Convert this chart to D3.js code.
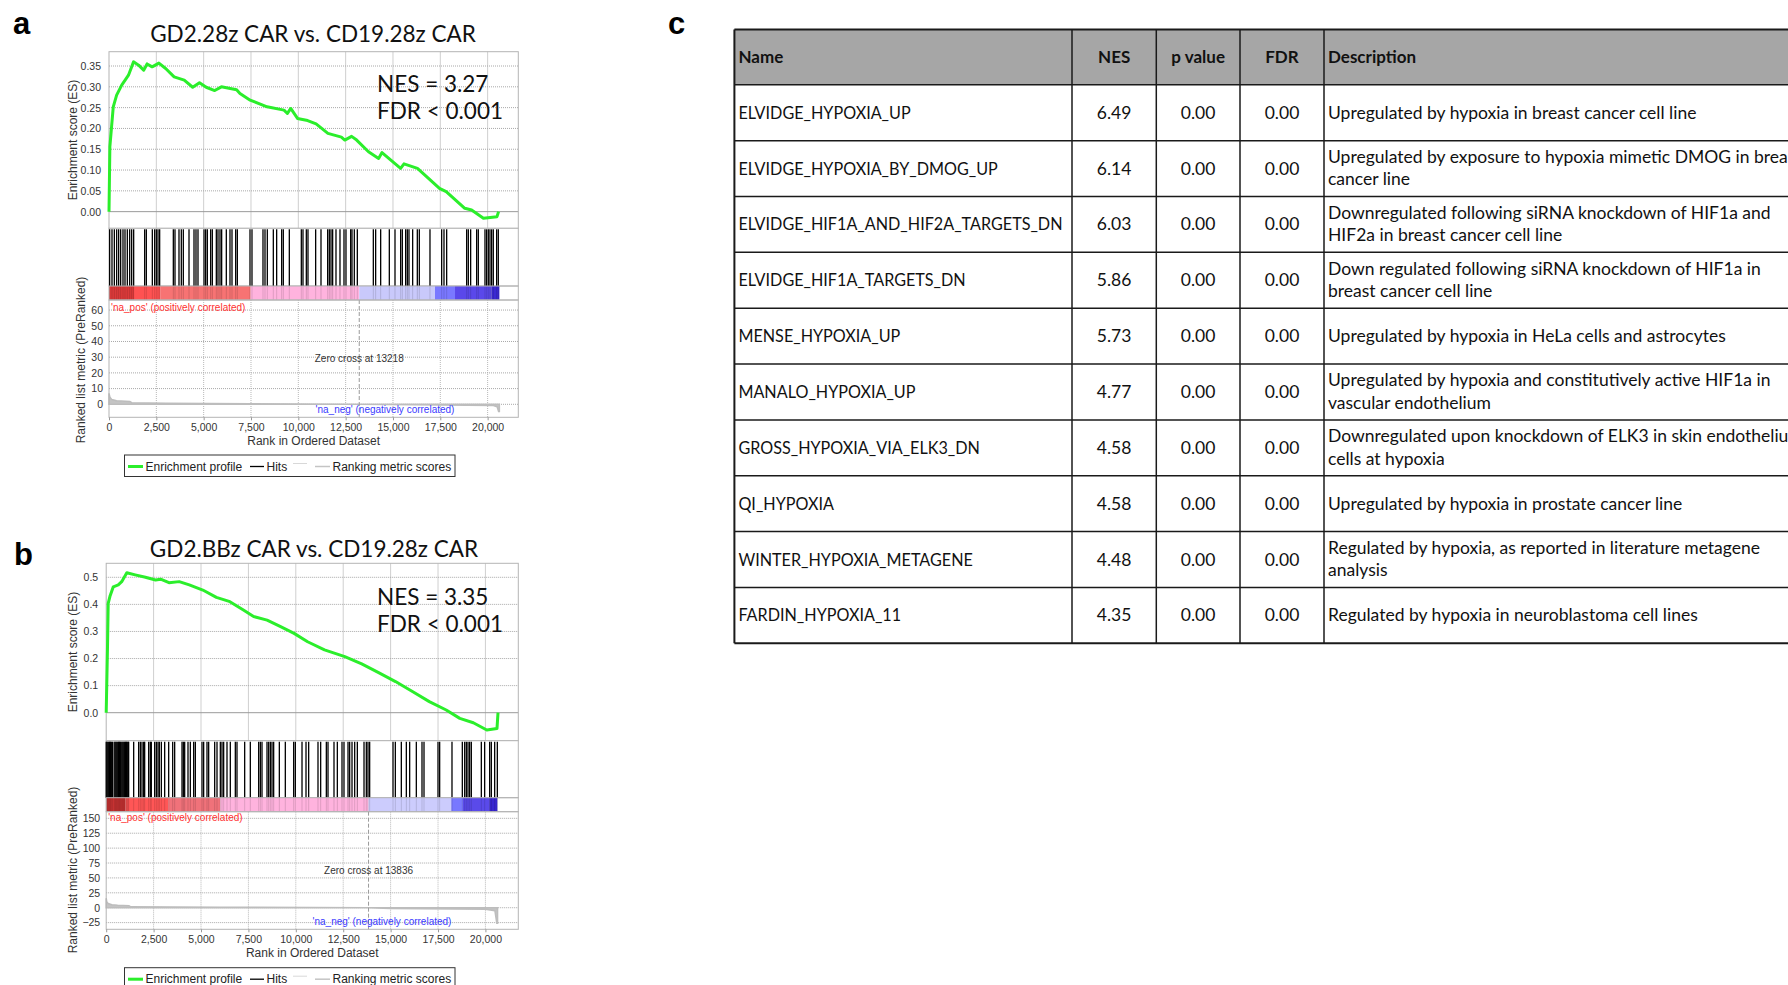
<!DOCTYPE html>
<html><head><meta charset="utf-8">
<script src="https://cdn.jsdelivr.net/npm/d3@7"></script>
<style>body{margin:0;background:#fff;overflow:hidden}svg{display:block}</style>
</head><body>
<svg id="fig" width="1788" height="985"></svg>
<script>
// ---------------- DATA ----------------
const xTicks = [0, 2500, 5000, 7500, 10000, 12500, 15000, 17500, 20000];

// Panel a
const titleA = "GD2.28z CAR vs. CD19.28z CAR";
const nesA = "NES = 3.27";
const fdrA = "FDR < 0.001";
const zeroCrossA = 13218;
const esTicksA = [0, 0.05, 0.10, 0.15, 0.20, 0.25, 0.30, 0.35];
const metricTicksA = [0, 10, 20, 30, 40, 50, 60];
const esRankA = [0,46,135,225,403,672,1029,1296,1564,1831,2011,2279,2635,2993,3440,3974,4421,4780,5135,5583,5937,6740,6919,7457,8350,9244,9423,9600,9957,10492,10940,11563,12276,12455,12814,13083,13707,14241,14420,15403,15582,16295,17457,17811,18793,19153,19777,20495,20578];
const esValA = [0,0.156,0.204,0.252,0.280,0.304,0.328,0.360,0.352,0.340,0.355,0.348,0.357,0.344,0.324,0.316,0.299,0.310,0.299,0.291,0.300,0.293,0.284,0.268,0.252,0.244,0.236,0.248,0.224,0.219,0.211,0.188,0.179,0.172,0.181,0.172,0.144,0.128,0.142,0.104,0.115,0.104,0.056,0.048,0.008,0.004,-0.016,-0.012,0.0];
const hitsA = [35,158,282,405,510,616,739,845,968,1092,1197,1303,1884,1972,2289,2412,2500,2588,2676,3398,3486,3697,3820,3926,4226,4490,4595,4701,5018,5106,5194,5370,5458,5669,5757,5863,5951,6197,6391,6497,6691,6779,7448,7553,8134,8240,8363,8680,8856,9120,9208,9525,10159,10247,10423,10511,10916,11198,11550,11638,11726,11814,11990,12201,12413,12518,12765,12835,12958,13117,13962,14085,14350,14807,15107,15406,15494,15670,15758,15846,16040,16286,16392,16955,17572,17695,17836,18892,18980,19103,19420,19508,19860,19948,20036,20124,20212,20300,20476,20564];
const metricRankA = [0,50,150,400,1100,1200,3000,7500,13218,17500,20300,20500,20580,20620];
const metricValA = [7,4.5,3,2.3,1.8,1.0,0.7,0.4,0,-0.4,-0.8,-1.5,-4.5,-4.5];
const colorBreaksA = [0,1320,2725,7480,13218,17220,18277,20213,20620];
const colorsA = ["#dc3a3a","#ff5252","#f77373","#ffb3de","#c9c9fb","#7a78ff","#5a48ea","#3a28d2"];

// Panel b
const titleB = "GD2.BBz CAR vs. CD19.28z CAR";
const nesB = "NES = 3.35";
const fdrB = "FDR < 0.001";
const zeroCrossB = 13836;
const esTicksB = [0, 0.1, 0.2, 0.3, 0.4, 0.5];
const metricTicksB = [-25, 0, 25, 50, 75, 100, 125, 150];
const esRankB = [0,69,105,195,374,638,818,1087,1530,2068,2601,2869,3312,3850,4383,5095,5812,6524,7236,7774,8486,9198,9910,10622,11513,12584,13475,14367,15258,16150,17041,17932,18649,19361,20073,20611,20664];
const esValB = [0,0.244,0.404,0.429,0.465,0.472,0.484,0.517,0.509,0.500,0.490,0.493,0.480,0.484,0.472,0.453,0.426,0.410,0.379,0.355,0.342,0.318,0.293,0.262,0.232,0.207,0.180,0.148,0.115,0.078,0.041,0.010,-0.021,-0.037,-0.064,-0.058,0.0];
const hitsB = [0,45,90,135,180,225,270,330,420,470,515,560,610,655,700,745,790,840,885,930,975,1020,1065,1110,1155,1185,1449,1712,1800,1888,1976,2029,2240,2327,2380,2556,2644,2732,2802,2908,3084,3295,3506,3611,3998,4068,4139,4314,4437,4613,4701,5052,5140,5316,5404,5721,5844,6019,6107,6195,6371,6546,6810,6898,7303,7601,8041,8129,8217,8481,8569,8657,8744,8832,9131,9447,9887,9975,10327,10538,10678,11170,11311,11610,11698,12014,12190,12436,12541,12753,12840,12964,13105,13245,13597,13719,13807,13895,15126,15249,15565,15829,16005,16356,16655,16761,17499,17587,18237,18782,18906,18993,19081,19169,19257,19784,19960,20224,20312,20488,20628];
const metricRankB = [0,30,100,300,600,1200,1300,6000,13836,15000,20000,20500,20600,20640];
const metricValB = [16,10,7,5,4,3.5,1.5,0.8,0,-1.5,-2.5,-5,-26,-26];
const colorBreaksB = [0,1010,3295,6019,13836,18200,18815,20200,20630];
const colorsB = ["#cf3535","#ff5656","#f0727a","#ffb3de","#ccccfd","#7878ff","#5a4aea","#3826d0"];

// Legend
const legendLabels = ["Enrichment profile", "Hits", "Ranking metric scores"];

// Table c
const tableHeaders = ["Name", "NES", "p value", "FDR", "Description"];
const geneSets = ["ELVIDGE_HYPOXIA_UP","ELVIDGE_HYPOXIA_BY_DMOG_UP","ELVIDGE_HIF1A_AND_HIF2A_TARGETS_DN","ELVIDGE_HIF1A_TARGETS_DN","MENSE_HYPOXIA_UP","MANALO_HYPOXIA_UP","GROSS_HYPOXIA_VIA_ELK3_DN","QI_HYPOXIA","WINTER_HYPOXIA_METAGENE","FARDIN_HYPOXIA_11"];
const nesValues = ["6.49","6.14","6.03","5.86","5.73","4.77","4.58","4.58","4.48","4.35"];
const pValues = ["0.00","0.00","0.00","0.00","0.00","0.00","0.00","0.00","0.00","0.00"];
const fdrValues = ["0.00","0.00","0.00","0.00","0.00","0.00","0.00","0.00","0.00","0.00"];
const descriptions = [
  "Upregulated by hypoxia in breast cancer cell line",
  "Upregulated by exposure to hypoxia mimetic DMOG in breast\ncancer line",
  "Downregulated following siRNA knockdown of HIF1a and\nHIF2a in breast cancer cell line",
  "Down regulated following siRNA knockdown of HIF1a in\nbreast cancer cell line",
  "Upregulated by hypoxia in HeLa cells and astrocytes",
  "Upregulated by hypoxia and constitutively active HIF1a in\nvascular endothelium",
  "Downregulated upon knockdown of ELK3 in skin endothelium\ncells at hypoxia",
  "Upregulated by hypoxia in prostate cancer line",
  "Regulated by hypoxia, as reported in literature metagene\nanalysis",
  "Regulated by hypoxia in neuroblastoma cell lines"
];

// ---------------- DRAWING ----------------
const svg = d3.select("#fig");
const SMALL = "'Liberation Sans', Arial, sans-serif";
const CAL = "Lato, 'Open Sans', sans-serif";
const GREEN = "#2bee2b";

function drawGSEA(p) {
  const g = svg.append("g");
  const x = d3.scaleLinear().domain([0, p.xMax]).range([p.left, p.right]);
  const yES = d3.scaleLinear().domain(p.esDomain).range([p.esBottom, p.esTop]);
  const yM = d3.scaleLinear().domain(p.mDomain).range([p.mBottom, p.mTop]);
  const W = p.right - p.left;

  g.append("text").attr("x", p.letterX).attr("y", p.letterY).text(p.letter)
    .attr("font-family", SMALL).attr("font-weight", "bold").attr("font-size", 31).attr("fill", "#000");
  g.append("text").attr("x", p.titleX).attr("y", p.titleY).attr("text-anchor", "middle")
    .attr("font-family", CAL).attr("font-size", 22.5).attr("fill", "#111").text(p.title);

  g.selectAll(".vgES").data(p.xTicks.filter(d => d > 0)).join("line")
    .attr("x1", d => x(d)).attr("x2", d => x(d)).attr("y1", p.esTop).attr("y2", p.esBottom)
    .attr("stroke", "#cfcfcf").attr("stroke-width", 1);
  g.selectAll(".hgES").data(p.esTicks).join("line")
    .attr("x1", p.left).attr("x2", p.right).attr("y1", d => yES(d)).attr("y2", d => yES(d))
    .attr("stroke", d => d === 0 ? "#9a9a9a" : "#a8a8a8")
    .attr("stroke-dasharray", d => d === 0 ? null : "1,1").attr("stroke-width", 1);
  g.append("rect").attr("x", p.left).attr("y", p.esTop).attr("width", W).attr("height", p.esBottom - p.esTop)
    .attr("fill", "none").attr("stroke", "#b4b4b4");

  const axES = g.append("g").attr("transform", `translate(${p.left},0)`)
    .call(d3.axisLeft(yES).tickValues(p.esTicks).tickFormat(d3.format(p.esFmt)).tickSize(0).tickPadding(8));
  axES.select(".domain").remove();
  axES.selectAll("text").attr("font-family", SMALL).attr("font-size", 10.5).attr("fill", "#333");

  g.append("text").attr("x", p.nesX).attr("y", p.nesY).text(p.nes)
    .attr("font-family", CAL).attr("font-size", 22.5).attr("fill", "#111");
  g.append("text").attr("x", p.nesX).attr("y", p.nesY + 27).text(p.fdr)
    .attr("font-family", CAL).attr("font-size", 22.5).attr("fill", "#111");

  const esPts = p.esRank.map((r, i) => [r, p.esVal[i]]);
  g.append("path").datum(esPts)
    .attr("d", d3.line().x(d => x(d[0])).y(d => yES(d[1])))
    .attr("fill", "none").attr("stroke", GREEN).attr("stroke-width", 3).attr("stroke-linejoin", "round");

  g.append("rect").attr("x", p.left).attr("y", p.esBottom).attr("width", W).attr("height", p.barTop - p.esBottom)
    .attr("fill", "#fff").attr("stroke", "#b4b4b4");
  g.selectAll(".hit").data(p.hits).join("line")
    .attr("x1", d => x(d)).attr("x2", d => x(d)).attr("y1", p.esBottom + 1).attr("y2", p.barTop)
    .attr("stroke", "#000").attr("stroke-width", 1.3);

  const segs = p.colors.map((c, i) => ({a: p.colorBreaks[i], b: p.colorBreaks[i + 1], c}));
  g.selectAll(".seg").data(segs).join("rect")
    .attr("x", d => x(d.a)).attr("width", d => x(d.b) - x(d.a))
    .attr("y", p.barTop).attr("height", p.mTop - p.barTop).attr("fill", d => d.c);
  g.selectAll(".hitc").data(p.hits).join("line")
    .attr("x1", d => x(d)).attr("x2", d => x(d)).attr("y1", p.barTop).attr("y2", p.mTop)
    .attr("stroke", "#000").attr("stroke-opacity", 0.13).attr("stroke-width", 1);
  g.append("rect").attr("x", p.left).attr("y", p.barTop).attr("width", W).attr("height", p.mTop - p.barTop)
    .attr("fill", "none").attr("stroke", "#b4b4b4");

  g.selectAll(".vgM").data(p.xTicks.filter(d => d > 0)).join("line")
    .attr("x1", d => x(d)).attr("x2", d => x(d)).attr("y1", p.mTop).attr("y2", p.mBottom)
    .attr("stroke", "#b8b8b8").attr("stroke-dasharray", "1,1");
  g.selectAll(".hgM").data(p.metricTicks).join("line")
    .attr("x1", p.left).attr("x2", p.right).attr("y1", d => yM(d)).attr("y2", d => yM(d))
    .attr("stroke", "#a8a8a8").attr("stroke-dasharray", "1,1");

  const mPts = p.metricRank.map((r, i) => [r, p.metricVal[i]]);
  g.append("path").datum(mPts)
    .attr("d", d3.area().x(d => x(d[0])).y0(yM(0)).y1(d => yM(d[1])))
    .attr("fill", "#c4c4c4").attr("stroke", "#bdbdbd").attr("stroke-width", 1.5);

  g.append("line").attr("x1", x(p.zeroCross)).attr("x2", x(p.zeroCross))
    .attr("y1", p.mTop).attr("y2", p.mBottom)
    .attr("stroke", "#9a9a9a").attr("stroke-dasharray", "4,2");
  g.append("text").attr("x", x(p.zeroCross)).attr("y", p.zeroTextY).attr("text-anchor", "middle")
    .attr("font-family", SMALL).attr("font-size", 10).attr("fill", "#333")
    .text("Zero cross at " + p.zeroCross);
  g.append("text").attr("x", p.left + 2).attr("y", p.posY)
    .attr("font-family", SMALL).attr("font-size", 10).attr("fill", "#ff3030")
    .text("'na_pos' (positively correlated)");
  g.append("text").attr("x", p.negX).attr("y", p.negY).attr("text-anchor", "middle")
    .attr("font-family", SMALL).attr("font-size", 10).attr("fill", "#3a3aff")
    .text("'na_neg' (negatively correlated)");

  g.append("rect").attr("x", p.left).attr("y", p.mTop).attr("width", W).attr("height", p.mBottom - p.mTop)
    .attr("fill", "none").attr("stroke", "#b4b4b4");

  const axM = g.append("g").attr("transform", `translate(${p.left},0)`)
    .call(d3.axisLeft(yM).tickValues(p.metricTicks).tickFormat(d3.format("d")).tickSize(0).tickPadding(6));
  axM.select(".domain").remove();
  axM.selectAll("text").attr("font-family", SMALL).attr("font-size", 10.5).attr("fill", "#333");

  const axX = g.append("g").attr("transform", `translate(0,${p.mBottom})`)
    .call(d3.axisBottom(x).tickValues(p.xTicks).tickFormat(d3.format(",")).tickSize(3).tickPadding(3));
  axX.select(".domain").remove();
  axX.selectAll("line").attr("stroke", "#999");
  axX.selectAll("text").attr("font-family", SMALL).attr("font-size", 10.5).attr("fill", "#333");

  g.append("text").attr("x", (p.left + p.right) / 2).attr("y", p.xTitleY).attr("text-anchor", "middle")
    .attr("font-family", SMALL).attr("font-size", 12).attr("fill", "#333").text("Rank in Ordered Dataset");
  g.append("text").attr("transform", `translate(${p.esLabX},${(p.esTop + p.esBottom) / 2}) rotate(-90)`)
    .attr("text-anchor", "middle").attr("dy", "0.35em")
    .attr("font-family", SMALL).attr("font-size", 12).attr("fill", "#333").text("Enrichment score (ES)");
  g.append("text").attr("transform", `translate(${p.mLabX},${p.mLabY}) rotate(-90)`)
    .attr("text-anchor", "middle").attr("dy", "0.35em")
    .attr("font-family", SMALL).attr("font-size", 12).attr("fill", "#333").text("Ranked list metric (PreRanked)");

  const lg = g.append("g").attr("transform", `translate(0,${p.legTop})`);
  lg.append("rect").attr("x", 124.5).attr("y", 0).attr("width", 330.5).attr("height", 21.5)
    .attr("fill", "#fff").attr("stroke", "#333").attr("stroke-width", 1);
  const ly = 11.5, lty = 15.5;
  lg.append("line").attr("x1", 128).attr("x2", 143).attr("y1", ly).attr("y2", ly).attr("stroke", GREEN).attr("stroke-width", 3);
  lg.append("text").attr("x", 145.5).attr("y", lty).text(legendLabels[0]).attr("font-family", SMALL).attr("font-size", 12).attr("fill", "#222");
  lg.append("line").attr("x1", 250).attr("x2", 264).attr("y1", ly).attr("y2", ly).attr("stroke", "#000").attr("stroke-width", 1.3);
  lg.append("text").attr("x", 266.5).attr("y", lty).text(legendLabels[1]).attr("font-family", SMALL).attr("font-size", 12).attr("fill", "#222");
  lg.append("line").attr("x1", 293).attr("x2", 307).attr("y1", ly - 3).attr("y2", ly - 3).attr("stroke", "#d8d8d8").attr("stroke-width", 1);
  lg.append("line").attr("x1", 315).attr("x2", 330).attr("y1", ly).attr("y2", ly).attr("stroke", "#c4c4c4").attr("stroke-width", 1.5);
  lg.append("text").attr("x", 332.5).attr("y", lty).text(legendLabels[2]).attr("font-family", SMALL).attr("font-size", 12).attr("fill", "#222");
}

drawGSEA({
  letter: "a", letterX: 13, letterY: 34, title: titleA, titleX: 313, titleY: 42,
  nes: nesA, fdr: fdrA, nesX: 377, nesY: 92,
  xTicks, xMax: 21620, left: 109, right: 518.3,
  esDomain: [-0.040, 0.3844], esTop: 51.7, esBottom: 228.3, esTicks: esTicksA, esFmt: ".2f",
  esRank: esRankA, esVal: esValA, hits: hitsA,
  barTop: 286, colorBreaks: colorBreaksA, colors: colorsA,
  mDomain: [-8.27, 66.4], mTop: 300, mBottom: 417.3, metricTicks: metricTicksA,
  metricRank: metricRankA, metricVal: metricValA, zeroCross: zeroCrossA,
  zeroTextY: 362, posY: 310.5, negX: 385, negY: 413,
  xTitleY: 445, esLabX: 72.7, mLabX: 80.7, mLabY: 360, legTop: 455
});

drawGSEA({
  letter: "b", letterX: 14, letterY: 565, title: titleB, titleX: 314, titleY: 557,
  nes: nesB, fdr: fdrB, nesX: 377, nesY: 605,
  xTicks, xMax: 21734, left: 106.2, right: 518.3,
  esDomain: [-0.1034, 0.5517], esTop: 563.3, esBottom: 740.7, esTicks: esTicksB, esFmt: ".1f",
  esRank: esRankB, esVal: esValB, hits: hitsB,
  barTop: 797.7, colorBreaks: colorBreaksB, colors: colorsB,
  mDomain: [-36.2, 161.1], mTop: 811.7, mBottom: 929.3, metricTicks: metricTicksB,
  metricRank: metricRankB, metricVal: metricValB, zeroCross: zeroCrossB,
  zeroTextY: 874, posY: 821, negX: 382, negY: 925,
  xTitleY: 957.3, esLabX: 72.7, mLabX: 72.7, mLabY: 870, legTop: 967.7
});

// ---------------- TABLE c ----------------
const tg = svg.append("g");
tg.append("text").attr("x", 668).attr("y", 34).text("c")
  .attr("font-family", SMALL).attr("font-weight", "bold").attr("font-size", 31).attr("fill", "#000");

const colX = [734.4, 1072, 1156.3, 1240, 1324, 1830];
const tableTop = 29.6, headerBottom = 84.8, rowH = 55.85;
const rowY = d3.scaleLinear().domain([0, 1]).range([headerBottom, headerBottom + rowH]);
const nRows = geneSets.length;
const tableBottom = rowY(nRows);

tg.append("rect").attr("x", colX[0]).attr("y", tableTop).attr("width", colX[5] - colX[0])
  .attr("height", headerBottom - tableTop).attr("fill", "#a6a6a6");

const rows = geneSets.map((n, i) => ({name: n, nes: nesValues[i], p: pValues[i], fdr: fdrValues[i], desc: descriptions[i]}));

const hdrAnchor = ["start", "middle", "middle", "middle", "start"];
const colTextX = (ci, anchor) => anchor === "start" ? colX[ci] + 4 : (colX[ci] + colX[ci + 1]) / 2;
tableHeaders.forEach((h, ci) => {
  tg.append("text").attr("x", colTextX(ci, hdrAnchor[ci])).attr("y", (tableTop + headerBottom) / 2 + 6)
    .attr("text-anchor", hdrAnchor[ci]).attr("font-family", CAL).attr("font-weight", "bold")
    .attr("font-size", 17).attr("fill", "#111").text(h);
});

rows.forEach((r, i) => {
  const cy = (rowY(i) + rowY(i + 1)) / 2;
  // name column: slightly condensed to mimic Calibri capitals
  tg.append("text").attr("transform", `translate(${colX[0] + 4},${cy + 6}) scale(0.925,1)`)
    .attr("font-family", CAL).attr("font-size", 17.5).attr("fill", "#111").text(r.name);
  const vals = [r.nes, r.p, r.fdr];
  vals.forEach((v, k) => {
    const ci = k + 1;
    tg.append("text").attr("x", colTextX(ci, "middle")).attr("y", cy + 6)
      .attr("text-anchor", "middle").attr("font-family", CAL).attr("font-size", 17.5)
      .attr("fill", "#111").text(v);
  });
  const lines = r.desc.split("\n");
  const t = tg.append("text").attr("font-family", CAL).attr("font-size", 17.5).attr("fill", "#111");
  lines.forEach((ln, li) => {
    const by = lines.length === 1 ? cy + 6 : cy - 5.5 + li * 22.3;
    t.append("tspan").attr("x", colX[4] + 4).attr("y", by).text(ln);
  });
});

const hLines = [tableTop, headerBottom].concat(d3.range(1, nRows + 1).map(i => rowY(i)));
tg.selectAll(".th").data(hLines).join("line")
  .attr("x1", colX[0]).attr("x2", colX[5]).attr("y1", d => d).attr("y2", d => d)
  .attr("stroke", "#1a1a1a").attr("stroke-width", (d, i) => (i === 0 || i === hLines.length - 1) ? 2 : 1.5);
tg.selectAll(".tv").data(colX.slice(0, 5)).join("line")
  .attr("x1", d => d).attr("x2", d => d).attr("y1", tableTop).attr("y2", tableBottom)
  .attr("stroke", "#1a1a1a").attr("stroke-width", (d, i) => i === 0 ? 2 : 1.5);
</script>
</body></html>
